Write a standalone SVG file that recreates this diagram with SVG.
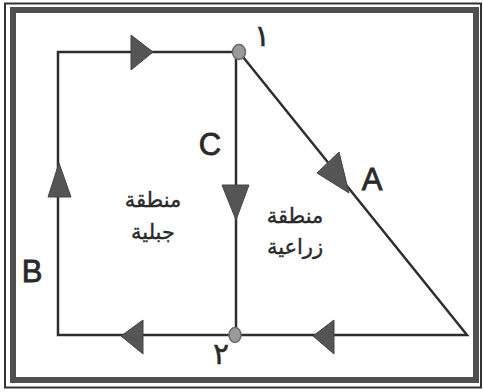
<svg xmlns="http://www.w3.org/2000/svg" width="483" height="392" viewBox="0 0 483 392">
<style>
.edge{fill:none;stroke:#2e2e2e;stroke-width:2.5;stroke-linejoin:miter}
.arr{fill:#555;stroke:#444;stroke-width:1}
.node{fill:#9a9a9a;stroke:#6a6a6a;stroke-width:1.5}
.lbl{font-family:"Liberation Sans",Arial,sans-serif;font-size:31px;fill:#2a2a2a;stroke:#2a2a2a;stroke-width:0.8;text-anchor:middle}
.ar{font-family:"DejaVu Sans",sans-serif;font-size:21px;fill:#2a2a2a;stroke:#2a2a2a;stroke-width:0.4;text-anchor:middle}
.num{font-family:"DejaVu Sans",sans-serif;font-size:30px;fill:#2a2a2a;stroke:#2a2a2a;stroke-width:0.5;text-anchor:middle}
</style>
<rect width="483" height="392" fill="#fff"/>
<g id="frame">
<rect x="5" y="3.5" width="476" height="384" fill="none" stroke="#333" stroke-width="2"/>
<rect x="13" y="10" width="463" height="370" fill="none" stroke="#4f4f4f" stroke-width="6"/>
</g>
<g id="connectors">
<path class="edge" d="M239,52 H58 V335 H235"/>
<path class="edge" d="M235,335 H467 L239,52"/>
<path class="edge" d="M236,52 V335"/>
<polygon class="arr" points="131,35 131,70 153,52"/>
<polygon class="arr" points="59,163 48,197 71,197"/>
<polygon class="arr" points="222,185 249,185 236,220"/>
<polygon class="arr" points="317,173 339,152 349,193"/>
<polygon class="arr" points="121,336 143,320 143,354"/>
<polygon class="arr" points="313,336 334,320 334,354"/>
</g>
<g id="node1"><ellipse class="node" cx="239" cy="52" rx="6.5" ry="7.5"/><text class="num" x="262" y="46">١</text></g>
<g id="node2"><ellipse class="node" cx="235" cy="335" rx="6" ry="7.5"/><text class="num" x="221" y="364">٢</text></g>
<g id="labels">
<text class="lbl" x="210" y="155">C</text>
<text class="lbl" x="372" y="190">A</text>
<text class="lbl" x="32" y="282">B</text>
</g>
<g id="region-mountain">
<text class="ar" x="153" y="207">منطقة</text>
<text class="ar" x="153" y="239">جبلية</text>
</g>
<g id="region-agri">
<text class="ar" x="295" y="223">منطقة</text>
<text class="ar" x="295" y="254">زراعية</text>
</g>
</svg>
